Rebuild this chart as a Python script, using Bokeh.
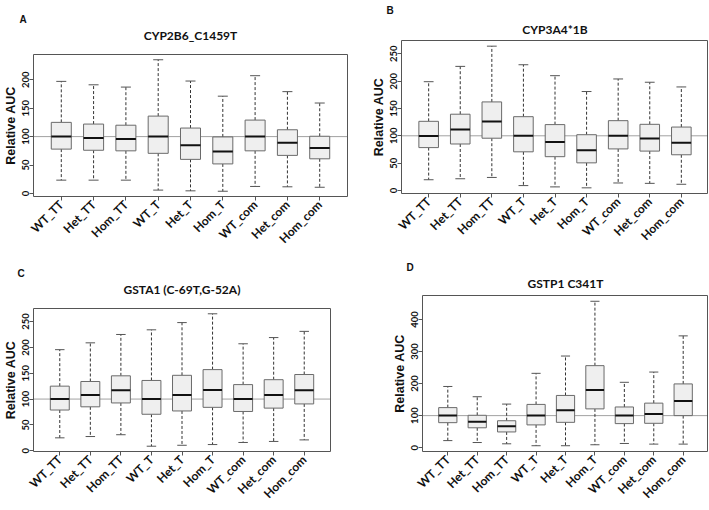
from bokeh.plotting import figure
from bokeh.layouts import column, row
from bokeh.models import Range1d, FixedTicker, Span, Title, LinearAxis
from bokeh.embed import file_html
from bokeh.resources import INLINE
import math

categories = ["WT_TT", "Het_TT", "Hom_TT", "WT_T", "Het_T", "Hom_T", "WT_com", "Het_com", "Hom_com"]
positions = list(range(1, len(categories) + 1))

# Panel A: CYP2B6_C1459T
a_low = [23.5, 23.5, 23.5, 6, 4.7, 4, 12.4, 11.8, 11]
a_q1 = [78, 76, 75, 70.6, 60, 52, 75, 67, 61]
a_med = [100, 97.6, 96, 100, 85, 74, 100, 89, 80]
a_q3 = [125, 122, 120, 136, 115, 99.4, 129, 112, 100.6]
a_high = [197, 191, 187, 235, 197.6, 171, 207, 179, 159]
a_ticks = [0, 50, 100, 150, 200]

# Panel B: CYP3A4*1B
b_low = [19.6, 21.4, 23.8, 8.9, 6.5, 4.8, 13.7, 13, 11.3]
b_q1 = [78.4, 85, 95.6, 70.7, 61.8, 50.5, 76, 72, 65.3]
b_med = [99.8, 111.6, 126, 100, 88.5, 73.6, 100, 95, 87.3]
b_q3 = [126.5, 139.5, 162, 135, 120.5, 102, 127.7, 121, 116]
b_high = [199, 227, 264, 230, 210, 181, 204, 198, 189.4]
b_ticks = [0, 50, 100, 150, 200, 250]

# Panel C: GSTA1 (C-69T,G-52A)
c_low = [25, 27.5, 31, 8.8, 10.6, 12, 16, 18, 21]
c_q1 = [78.8, 85, 92.5, 70.6, 77, 84, 76, 82.5, 90.6]
c_med = [100, 108, 117, 100, 108, 117.5, 100, 108, 117]
c_q3 = [125, 134, 145, 136, 146, 157, 128, 137.5, 147.5]
c_high = [195.6, 208.8, 225, 234, 248, 265, 207, 219, 231]
c_ticks = [0, 50, 100, 150, 200, 250]

# Panel D: GSTP1 C341T
d_low = [22, 16, 12, 6, 6, 9, 13, 11, 11]
d_q1 = [78, 62, 49, 71, 79, 121, 75, 76, 100]
d_med = [100, 81, 67, 100, 117, 180, 100, 105, 146]
d_q3 = [125, 101, 84, 135, 163, 256, 127, 139, 199]
d_high = [191, 159, 136, 232, 286, 457, 204, 236, 349]
d_ticks = [0, 100, 200, 300, 400]

reference_level = 100

BOX_W = 0.62
CAP_W = 0.31


def panel(letter, title, low, q1, med, q3, high, ticks, w, h, bl, br, bt, bb,
          t_stand, l_stand, l_off):
    lo, hi = min(low), max(high)
    pad = 0.04 * (hi - lo)
    p = figure(width=w, height=h, output_backend="svg", toolbar_location=None,
               title=None,
               x_range=Range1d(0.14, len(categories) + 0.86),
               y_range=Range1d(lo - pad, hi + pad),
               min_border_left=bl, min_border_right=br, min_border_top=bt,
               min_border_bottom=bb, background_fill_color="white",
               border_fill_color="white")
    # panel title: label of an empty axis above the frame
    tax = LinearAxis(ticker=FixedTicker(ticks=[]), axis_label=title,
                     axis_label_text_font="Lato", axis_label_text_font_style="bold",
                     axis_label_text_font_size="12px", axis_label_text_color="#111111",
                     axis_label_standoff=t_stand, axis_line_color=None,
                     major_tick_line_color=None, minor_tick_line_color=None,
                     major_tick_in=0, major_tick_out=0, minor_tick_in=0, minor_tick_out=0,
                     major_label_standoff=0)
    p.add_layout(tax, "above")
    p.add_layout(Title(text=letter, align="left", vertical_align="bottom",
                       text_font="Liberation Sans",
                       text_font_style="bold", text_font_size="10px",
                       offset=l_off, standoff=l_stand, text_color="#111111"), "above")
    p.grid.visible = False
    p.outline_line_color = "#555555"
    p.outline_line_width = 1

    x0 = [x - BOX_W / 2 for x in positions]
    x1 = [x + BOX_W / 2 for x in positions]
    c0 = [x - CAP_W / 2 for x in positions]
    c1 = [x + CAP_W / 2 for x in positions]

    # reference line (behind the boxes)
    p.add_layout(Span(location=reference_level, dimension="width", line_color="#444444",
                      line_dash="1 1", line_width=1, level="underlay"))
    # whiskers
    p.segment(x0=positions, y0=q3, x1=positions, y1=high, line_color="#333333",
              line_dash="3 2", line_width=1)
    p.segment(x0=positions, y0=q1, x1=positions, y1=low, line_color="#333333",
              line_dash="3 2", line_width=1)
    # staples
    p.segment(x0=c0, y0=high, x1=c1, y1=high, line_color="#555555", line_width=1)
    p.segment(x0=c0, y0=low, x1=c1, y1=low, line_color="#555555", line_width=1)
    # boxes
    p.vbar(x=positions, width=BOX_W, bottom=q1, top=q3, fill_color="#efefef",
           fill_alpha=1.0, line_color="#6a6a6a", line_width=1)
    # medians
    p.segment(x0=x0, y0=med, x1=x1, y1=med, line_color="#111111", line_width=2)

    xa = p.below[0]
    xa.ticker = FixedTicker(ticks=positions)
    xa.major_label_overrides = {x: c for x, c in zip(positions, categories)}
    xa.major_label_orientation = math.pi / 4
    xa.major_label_text_font = "Lato"
    xa.major_label_text_font_style = "bold"
    xa.major_label_text_font_size = "12px"
    xa.major_label_standoff = 2

    ya = p.left[0]
    ya.ticker = FixedTicker(ticks=ticks)
    ya.major_label_orientation = "vertical"
    ya.major_label_text_font = "Lato"
    ya.major_label_text_font_style = "bold"
    ya.major_label_text_font_size = "9.5px"
    ya.major_label_standoff = 0
    ya.axis_label = "Relative AUC"
    ya.axis_label_text_font = "Liberation Sans"
    ya.axis_label_text_font_style = "bold"
    ya.axis_label_text_font_size = "12.5px"
    ya.axis_label_standoff = 2

    for ax in (xa, ya):
        ax.axis_line_color = None
        ax.major_tick_line_color = "#555555"
        ax.major_tick_in = 0
        ax.major_tick_out = 4
        ax.minor_tick_line_color = None
        ax.major_label_text_color = "#111111"
        ax.axis_label_text_color = "#111111"
    return p


pA = panel("A", "CYP2B6_C1459T", a_low, a_q1, a_med, a_q3, a_high, a_ticks,
           354, 255, 32, 7, 54, 59, 12, 0, -14)
pB = panel("B", "CYP3A4*1B", b_low, b_q1, b_med, b_q3, b_high, b_ticks,
           354, 255, 47, 0, 37, 62, 4, 5, -15)
pC = panel("C", "GSTA1 (C-69T,G-52A)", c_low, c_q1, c_med, c_q3, c_high, c_ticks,
           354, 254, 32, 24, 53, 54, 12, 0, -16)
pD = panel("D", "GSTP1 C341T", d_low, d_q1, d_med, d_q3, d_high, d_ticks,
           354, 254, 68, 0, 40, 52, 5, 0, -16)

layout = column(row(column(pA), column(pB)), row(column(pC), column(pD)))

with open("out.html", "w") as f:
    f.write(file_html(layout, INLINE))
